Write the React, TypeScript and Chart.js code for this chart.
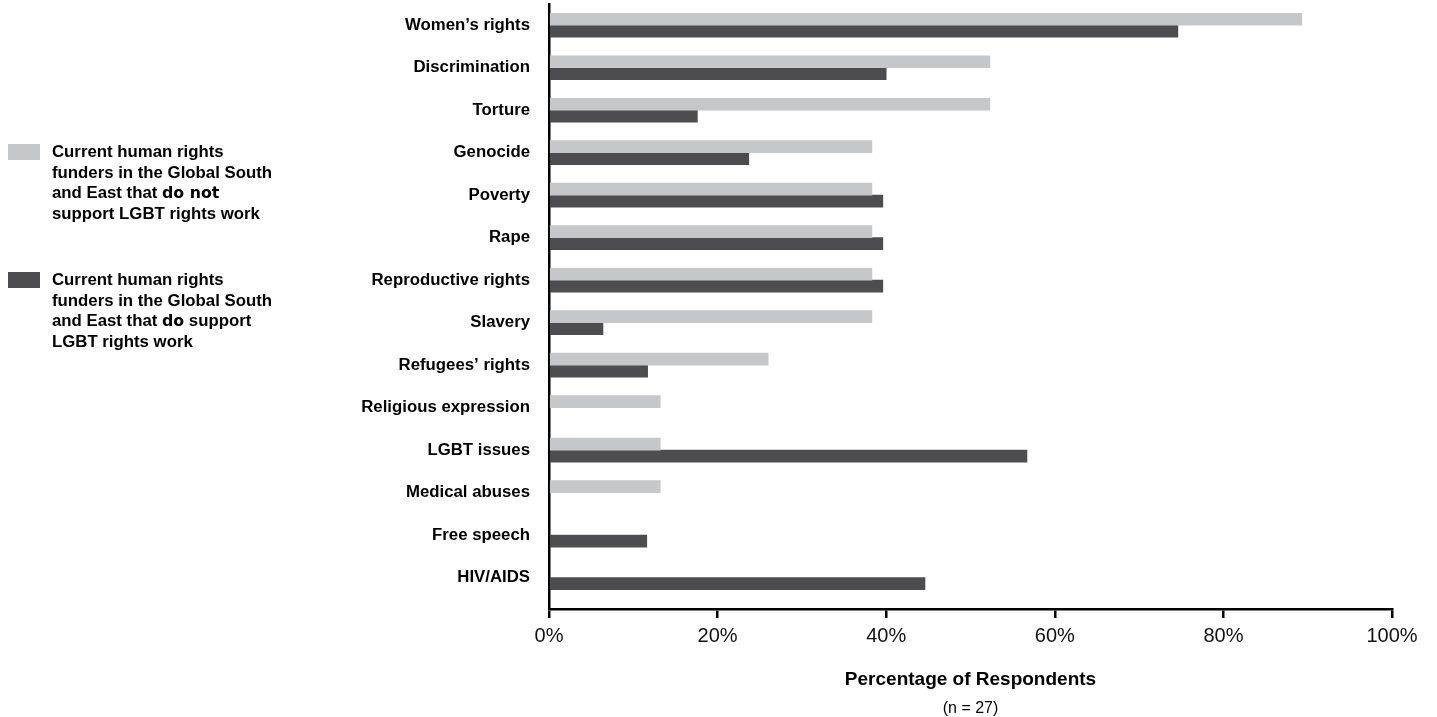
import React, { useEffect, useRef } from "react";
import { Chart, registerables } from "chart.js";

Chart.register(...registerables);

const categories = [
  "Women’s rights",
  "Discrimination",
  "Torture",
  "Genocide",
  "Poverty",
  "Rape",
  "Reproductive rights",
  "Slavery",
  "Refugees’ rights",
  "Religious expression",
  "LGBT issues",
  "Medical abuses",
  "Free speech",
  "HIV/AIDS",
];

// Current human rights funders in the Global South and East that do NOT support LGBT rights work
const notSupportValues = [89.3, 52.3, 52.3, 38.3, 38.3, 38.3, 38.3, 38.3, 26.0, 13.2, 13.2, 13.2, 0, 0];
// Current human rights funders in the Global South and East that DO support LGBT rights work
const supportValues = [74.6, 40.0, 17.6, 23.7, 39.6, 39.6, 39.6, 6.4, 11.7, 0, 56.7, 0, 11.6, 44.6];

const xTickValues = [0, 20, 40, 60, 80, 100];
const xTitle = "Percentage of Respondents";
const xSubtitle = "(n = 27)";

const LIGHT = "#c6c7c9";
const DARK = "#4d4d4f";
const FONT = "'Liberation Sans', Arial, Helvetica, sans-serif";

const noZero = (arr: number[]) => arr.map((v) => (v === 0 ? null : v));

export default function App() {
  const canvasRef = useRef<HTMLCanvasElement | null>(null);

  useEffect(() => {
    const canvas = canvasRef.current;
    if (!canvas) return;
    const chart = new Chart(canvas, {
      type: "bar",
      data: {
        labels: categories,
        datasets: [
          {
            label: "do not support",
            data: noZero(notSupportValues),
            backgroundColor: LIGHT,
            borderWidth: 0,
            barThickness: 12,
          },
          {
            label: "do support",
            data: noZero(supportValues),
            backgroundColor: DARK,
            borderWidth: 0,
            barThickness: 12,
          },
        ],
      },
      options: {
        indexAxis: "y",
        responsive: false,
        animation: false,
        layout: { padding: { left: 0, right: 45, top: 4, bottom: 0 } },
        plugins: {
          legend: { display: false },
          tooltip: { enabled: false },
        },
        scales: {
          x: {
            min: 0,
            max: 100,
            afterBuildTicks: (scale: any) => {
              scale.ticks = xTickValues.map((v) => ({ value: v }));
            },
            afterFit: (scale: any) => {
              scale.height = 108;
            },
            ticks: {
              stepSize: 20,
              padding: 6,
              color: "#111",
              font: { family: FONT, size: 20 },
              callback: (v: any) => `${v}%`,
            },
            grid: {
              display: true,
              drawOnChartArea: false,
              drawTicks: true,
              tickLength: 9,
              color: "#000",
              lineWidth: 2.5,
            },
            border: { display: true, color: "#000", width: 2.5 },
            title: {
              display: true,
              text: xTitle,
              color: "#000",
              font: { family: FONT, size: 19, weight: "bold" },
              padding: { top: 0, bottom: 26 },
            },
          },
          y: {
            afterBuildTicks: (scale: any) => {
              // leave a little room between the last category and the x axis line
              scale._valueRange = 14.24;
            },
            afterFit: (scale: any) => {
              scale.width = 549;
              scale.paddingTop = 0;
              scale.paddingBottom = 0;
            },
            ticks: {
              padding: 19,
              color: "#000",
              font: { family: FONT, size: 16.8, weight: "bold" },
            },
            grid: { display: false, drawTicks: false },
            border: { display: true, color: "#000", width: 2.5 },
          },
        },
      },
    });
    return () => chart.destroy();
  }, []);

  const textStyle: React.CSSProperties = {
    position: "absolute",
    left: 52,
    fontFamily: FONT,
    fontWeight: "bold",
    fontSize: 16.8,
    lineHeight: "20.7px",
    color: "#000",
    whiteSpace: "nowrap",
  };
  const heavy: React.CSSProperties = {
    fontFamily: "'DejaVu Sans', sans-serif",
    fontWeight: "bold",
    fontSize: 15.8,
  };

  return (
    <div
      style={{
        position: "fixed",
        left: 0,
        top: 0,
        width: 1437,
        height: 717,
        background: "#fff",
        overflow: "hidden",
      }}
    >
      <canvas
        ref={canvasRef}
        width={1437}
        height={717}
        style={{ position: "absolute", left: 0, top: 0, display: "block" }}
      />
      <div style={{ position: "absolute", left: 8, top: 144, width: 32, height: 16, background: LIGHT }} />
      <div style={{ ...textStyle, top: 142 }}>
        Current human rights
        <br />
        funders in the Global South
        <br />
        and East that <span style={heavy}>do not</span>
        <br />
        support LGBT rights work
      </div>
      <div style={{ position: "absolute", left: 8, top: 272, width: 32, height: 16, background: DARK }} />
      <div style={{ ...textStyle, top: 270 }}>
        Current human rights
        <br />
        funders in the Global South
        <br />
        and East that <span style={heavy}>do</span> support
        <br />
        LGBT rights work
      </div>
      <div
        style={{
          position: "absolute",
          left: 549,
          width: 843,
          top: 699,
          textAlign: "center",
          fontFamily: FONT,
          fontSize: 16,
          lineHeight: "18px",
          color: "#000",
        }}
      >
        {xSubtitle}
      </div>
    </div>
  );
}
